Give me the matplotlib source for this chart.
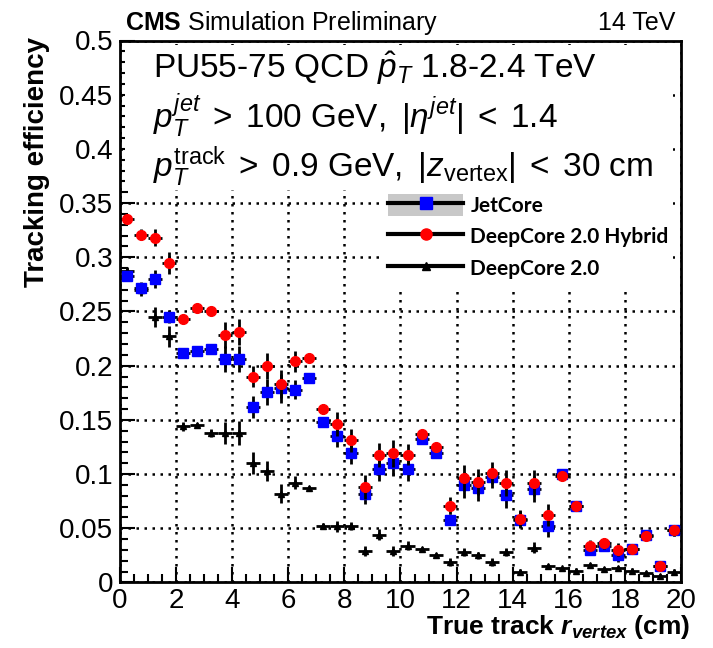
import numpy as np
import matplotlib
matplotlib.use("Agg")
import matplotlib.pyplot as plt
from matplotlib.lines import Line2D
from matplotlib.patches import Patch, Rectangle
from matplotlib.ticker import MultipleLocator

plt.rcParams['font.family'] = ['Liberation Sans', 'DejaVu Sans']
plt.rcParams['mathtext.fontset'] = 'custom'
plt.rcParams['mathtext.rm'] = 'Liberation Sans'
plt.rcParams['mathtext.it'] = 'Liberation Sans:italic'
plt.rcParams['mathtext.bf'] = 'Liberation Sans:bold'
plt.rcParams['mathtext.bfit'] = 'Liberation Sans:bold:italic'

# bins of 0.5 cm in r_vertex
r_centers = [0.25, 0.75, 1.25, 1.75, 2.25, 2.75, 3.25, 3.75, 4.25, 4.75,
             5.25, 5.75, 6.25, 6.75, 7.25, 7.75, 8.25, 8.75, 9.25, 9.75,
             10.25, 10.75, 11.25, 11.75, 12.25, 12.75, 13.25, 13.75, 14.25, 14.75,
             15.25, 15.75, 16.25, 16.75, 17.25, 17.75, 18.25, 18.75, 19.25, 19.75]
r_halfwidth = 0.25

jetcore = [0.283, 0.272, 0.280, 0.245, 0.212, 0.214, 0.215, 0.206, 0.206, 0.162,
           0.176, 0.179, 0.178, 0.189, 0.148, 0.135, 0.119, 0.082, 0.105, 0.110,
           0.105, 0.132, 0.119, 0.058, 0.090, 0.087, 0.097, 0.081, 0.058, 0.086,
           0.052, 0.100, 0.071, 0.030, 0.034, 0.025, 0.031, 0.044, 0.015, 0.048]
jetcore_err = [0.003, 0.005, 0.008, 0.006, 0.002, 0.002, 0.002, 0.012, 0.012, 0.010,
               0.012, 0.013, 0.009, 0.003, 0.004, 0.010, 0.010, 0.010, 0.011, 0.012,
               0.011, 0.003, 0.003, 0.005, 0.012, 0.012, 0.010, 0.012, 0.008, 0.012,
               0.010, 0.003, 0.003, 0.005, 0.005, 0.006, 0.004, 0.003, 0.003, 0.005]

hybrid = [0.335, 0.321, 0.318, 0.295, 0.243, 0.253, 0.250, 0.228, 0.231, 0.190,
          0.200, 0.183, 0.204, 0.207, 0.160, 0.146, 0.131, 0.088, 0.118, 0.119,
          0.118, 0.137, 0.125, 0.071, 0.096, 0.093, 0.101, 0.092, 0.059, 0.092,
          0.062, 0.098, 0.071, 0.034, 0.036, 0.030, 0.031, 0.043, 0.015, 0.048]
hybrid_err = [0.002, 0.005, 0.008, 0.010, 0.003, 0.003, 0.003, 0.012, 0.012, 0.010,
              0.012, 0.013, 0.010, 0.003, 0.005, 0.011, 0.011, 0.011, 0.011, 0.012,
              0.010, 0.003, 0.003, 0.008, 0.012, 0.012, 0.010, 0.012, 0.008, 0.012,
              0.010, 0.003, 0.003, 0.005, 0.005, 0.006, 0.004, 0.003, 0.003, 0.005]

deepcore = [0.287, 0.270, 0.245, 0.227, 0.144, 0.145, 0.138, 0.138, 0.138, 0.110,
            0.103, 0.082, 0.092, 0.087, 0.052, 0.052, 0.052, 0.029, 0.044, 0.029,
            0.034, 0.031, 0.025, 0.019, 0.028, 0.025, 0.019, 0.028, 0.010, 0.032,
            0.015, 0.013, 0.011, 0.016, 0.012, 0.013, 0.011, 0.009, 0.006, 0.010]
deepcore_err = [0.004, 0.006, 0.009, 0.010, 0.004, 0.002, 0.004, 0.010, 0.011, 0.010,
                0.009, 0.009, 0.006, 0.002, 0.003, 0.005, 0.004, 0.005, 0.005, 0.005,
                0.004, 0.002, 0.002, 0.004, 0.004, 0.003, 0.004, 0.004, 0.002, 0.005,
                0.002, 0.001, 0.002, 0.002, 0.002, 0.002, 0.002, 0.002, 0.002, 0.002]

fig = plt.figure(figsize=(7.13, 6.48), dpi=100)
fig.subplots_adjust(left=0.1683, right=0.9551, bottom=0.1011, top=0.9375)
ax = fig.add_subplot(111)

ebar = dict(ecolor='black', elinewidth=2.0, capsize=0, linestyle='none')
ax.errorbar(r_centers, deepcore, yerr=deepcore_err, xerr=r_halfwidth,
            marker='^', ms=5, mfc='black', mec='black', zorder=3, **ebar)
ax.errorbar(r_centers, jetcore, yerr=jetcore_err, xerr=r_halfwidth,
            marker='s', ms=7, mfc='#0000ff', mec='#0000ff', zorder=4, **ebar)
ax.errorbar(r_centers, hybrid, yerr=hybrid_err, xerr=r_halfwidth,
            marker='o', ms=7, mfc='#ff0000', mec='#ff0000', zorder=5, **ebar)

ax.set_xlim(0, 20)
ax.set_ylim(0, 0.5)
ax.xaxis.set_major_locator(MultipleLocator(2))
ax.xaxis.set_minor_locator(MultipleLocator(0.5))
ax.set_yticks([0, 0.05, 0.1, 0.15, 0.2, 0.25, 0.3, 0.35, 0.4, 0.45, 0.5])
ax.set_yticklabels(['0', '0.05', '0.1', '0.15', '0.2', '0.25', '0.3', '0.35', '0.4', '0.45', '0.5'])
ax.yaxis.set_minor_locator(MultipleLocator(0.01))
ax.tick_params(which='both', direction='in', width=1.5, labelsize=20)
ax.tick_params(which='major', length=11, pad=5)
ax.tick_params(which='minor', length=6)
ax.tick_params(axis='x', pad=4)
ax.xaxis.grid(True, which='major', color='black', linestyle=(0, (1, 2.2)), linewidth=1.8)
ax.yaxis.grid(True, which='major', color='black', linestyle=(0, (1, 2.2)), linewidth=1.8)
for sp in ax.spines.values():
    sp.set_linewidth(2)

# white panes behind the text block and the legend (hide the grid there)
ax.add_patch(Rectangle((0.009, 0.724), 0.977, 0.268, transform=ax.transAxes,
                       facecolor='white', edgecolor='none', zorder=2))
ax.add_patch(Rectangle((0.469, 0.545), 0.517, 0.18, transform=ax.transAxes,
                       facecolor='white', edgecolor='none', zorder=2))

fig.text(37 / 713, 1 - 37 / 648, 'Tracking efficiency', rotation=90, ha='center', va='top',
         fontsize=20, fontweight='bold')
fig.text(690 / 713, 1 - 634 / 648, r'True track $\mathbfit{r}_{\mathbfit{vertex}}$ (cm)',
         ha='right', va='baseline', fontsize=19, fontweight='bold')

fig.text(125 / 713, 1 - 30 / 648, r'$\mathbf{CMS}$ Simulation Preliminary', ha='left',
         va='baseline', fontsize=18)
fig.text(675 / 713, 1 - 30 / 648, '14 TeV', ha='right', va='baseline', fontsize=18)

ax.text(0.0588, 0.931, r'PU55-75 QCD $\hat{p}_{T}$ 1.8-2.4 TeV', transform=ax.transAxes,
        fontsize=24, va='baseline', zorder=6)
ax.text(0.0588, 0.8386, r'$p_{T}^{jet}\;>\;100\ \mathrm{GeV},\ |\eta^{jet}|\;<\;1.4$',
        transform=ax.transAxes, fontsize=24, va='baseline', zorder=6)
ax.text(0.0588, 0.748,
        r'$p_{T}^{\mathrm{track}}\;>\;0.9\ \mathrm{GeV},\ |z_{\mathrm{vertex}}|\;<\;30\ \mathrm{cm}$',
        transform=ax.transAxes, fontsize=24, va='baseline', zorder=6)

h_jet = (Patch(facecolor='#c8c8c8', edgecolor='none'),
         Line2D([], [], color='black', lw=3, marker='s', ms=8, mfc='#0000ff', mec='#0000ff'))
h_hyb = Line2D([], [], color='black', lw=3, marker='o', ms=8, mfc='#ff0000', mec='#ff0000')
h_dc = Line2D([], [], color='black', lw=3, marker='^', ms=6, mfc='black', mec='black')
leg = ax.legend([h_jet, h_hyb, h_dc], ['JetCore', 'DeepCore 2.0 Hybrid', 'DeepCore 2.0'],
                loc='upper left', bbox_to_anchor=(0.478, 0.717), frameon=False,
                borderpad=0, borderaxespad=0, handlelength=3.6, handleheight=1.25,
                handletextpad=0.35, labelspacing=0.45,
                prop={'family': ['Lato', 'DejaVu Sans'], 'weight': 'bold', 'size': 15})
leg.set_zorder(7)

fig.savefig('out.png', dpi=100)
